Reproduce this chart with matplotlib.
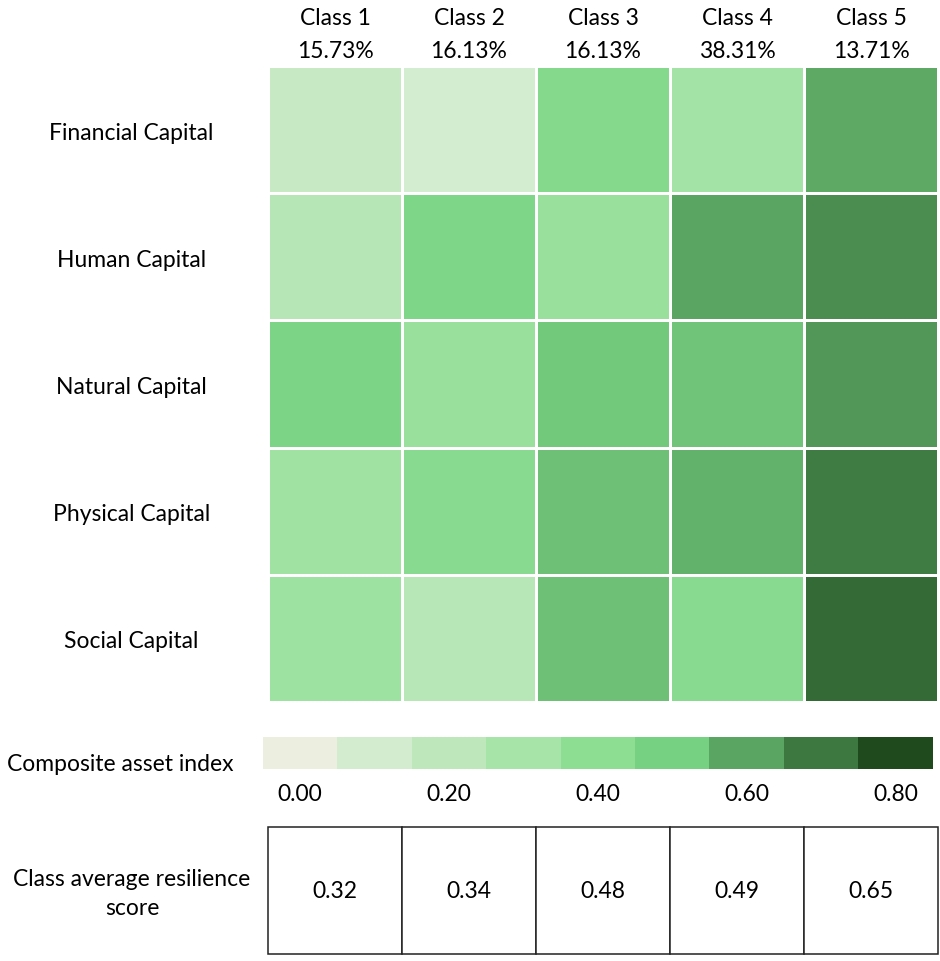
import numpy as np
import matplotlib
matplotlib.use('Agg')
import matplotlib.pyplot as plt
from matplotlib.colors import LinearSegmentedColormap, Normalize
from matplotlib.patches import Rectangle

plt.rcParams['font.family'] = ['Lato', 'DejaVu Sans']

classes = ['Class 1', 'Class 2', 'Class 3', 'Class 4', 'Class 5']
shares = ['15.73%', '16.13%', '16.13%', '38.31%', '13.71%']
capitals = ['Financial Capital', 'Human Capital', 'Natural Capital',
            'Physical Capital', 'Social Capital']
index_values = np.array([
    [0.16, 0.11, 0.44, 0.31, 0.59],
    [0.24, 0.47, 0.36, 0.60, 0.65],
    [0.48, 0.36, 0.52, 0.53, 0.63],
    [0.33, 0.43, 0.54, 0.57, 0.69],
    [0.34, 0.23, 0.54, 0.43, 0.73],
])
resilience = [0.32, 0.34, 0.48, 0.49, 0.65]
scale_ticks = [0.0, 0.2, 0.4, 0.6, 0.8]
scale_steps = [0.0, 0.1, 0.2, 0.3, 0.4, 0.5, 0.6, 0.7, 0.8]
scale_colors = ['#ECEEDF', '#D4EDD1', '#BFE8BD', '#A7E4A8', '#8EDE94',
                '#78D283', '#5BA562', '#3C7840', '#1E4A1E']

W, H = 940, 962
cmap = LinearSegmentedColormap.from_list('assets', list(zip(np.array(scale_steps) / 0.8, scale_colors)))
norm = Normalize(0, 0.8)


def box(l, t, r, b):
    return [l / W, 1 - b / H, (r - l) / W, (b - t) / H]


fig = plt.figure(figsize=(W / 100, H / 100), dpi=100)
fs = 16.5

# heatmap
ax = fig.add_axes(box(268, 67, 938, 703))
ax.pcolormesh(index_values, cmap=cmap, norm=norm, edgecolors='white', linewidth=1.0)
ax.set_xlim(0, 5)
ax.set_ylim(5, 0)
ax.set_xticks([])
ax.set_yticks([])
for s in ax.spines.values():
    s.set_visible(False)
for i, (c, p) in enumerate(zip(classes, shares)):
    ax.text(i + 0.5, -0.38, c, ha='center', va='center', fontsize=fs)
    ax.text(i + 0.5, -0.125, p, ha='center', va='center', fontsize=fs)
for j, name in enumerate(capitals):
    ax.text(-1.02, j + 0.52, name, ha='center', va='center', fontsize=fs)

# colour scale
cax = fig.add_axes(box(263, 738, 933, 770))
cax.imshow([scale_steps], cmap=cmap, norm=norm, aspect='auto', extent=(-0.05, 0.85, 0, 1))
cax.set_xticks(scale_ticks)
cax.set_xticklabels(['%.2f' % t for t in scale_ticks], fontsize=fs)
cax.tick_params(axis='x', length=0, pad=10)
cax.set_yticks([])
for s in cax.spines.values():
    s.set_visible(False)
fig.text(120 / W, 1 - 765 / H, 'Composite asset index', ha='center', va='center', fontsize=fs)

# resilience table
tax = fig.add_axes(box(268, 828, 938, 955))
tax.set_xlim(0, 5)
tax.set_ylim(0, 1)
tax.axis('off')
for i, v in enumerate(resilience):
    tax.add_patch(Rectangle((i, 0), 1, 1, facecolor='white', edgecolor='#222222', linewidth=1.1, clip_on=False))
    tax.text(i + 0.5, 0.5, '%.2f' % v, ha='center', va='center', fontsize=fs)
fig.text(132 / W, 1 - 894 / H, 'Class average resilience\nscore', ha='center', va='center',
         fontsize=fs, linespacing=1.45)

fig.savefig('out.png', dpi=100, facecolor='white')
